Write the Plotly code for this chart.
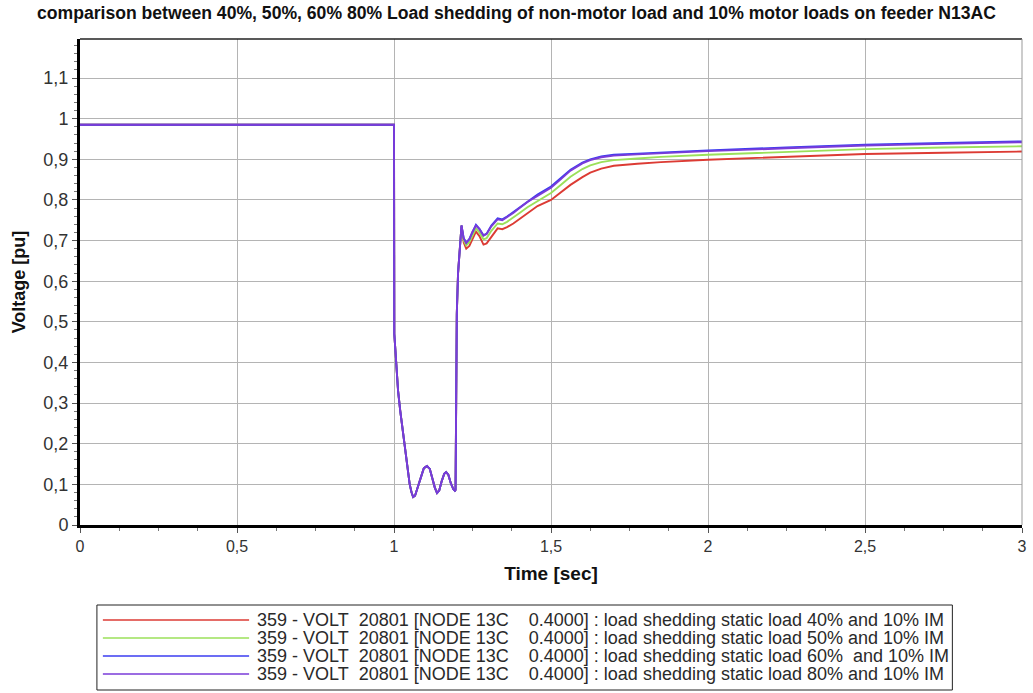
import plotly.graph_objects as go

# Time samples shared by every case up to the first recovery peak
t_common = [0, 1.0, 1.001, 1.006, 1.013, 1.02, 1.03, 1.04, 1.05, 1.056, 1.061,
            1.067, 1.075, 1.085, 1.095, 1.105, 1.114, 1.122, 1.13, 1.137, 1.144,
            1.152, 1.16, 1.166, 1.173, 1.181, 1.189, 1.194, 1.196, 1.198, 1.200,
            1.204, 1.208, 1.212, 1.215]
v_common = [0.985, 0.985, 0.47, 0.40, 0.33, 0.28, 0.22, 0.16, 0.10, 0.08, 0.069,
            0.072, 0.092, 0.12, 0.14, 0.145, 0.138, 0.115, 0.092, 0.079, 0.085,
            0.108, 0.126, 0.13, 0.124, 0.103, 0.088, 0.084, 0.086, 0.30, 0.52,
            0.62, 0.67, 0.72, 0.737]

# Recovery after fault clearing, per load-shedding case
t_tail = [1.222, 1.230, 1.240, 1.250, 1.261, 1.272, 1.285, 1.295, 1.31, 1.33,
          1.345, 1.36, 1.38, 1.40, 1.425, 1.457, 1.50, 1.53, 1.562, 1.60, 1.625,
          1.66, 1.70, 1.775, 1.85, 2.0, 2.25, 2.5, 2.75, 3.0]
v_tail_40 = [0.695, 0.680, 0.687, 0.705, 0.722, 0.711, 0.690, 0.693, 0.710, 0.730,
             0.728, 0.733, 0.742, 0.753, 0.767, 0.785, 0.800, 0.817, 0.837, 0.856,
             0.867, 0.877, 0.884, 0.889, 0.893, 0.899, 0.906, 0.913, 0.916, 0.919]
v_tail_50 = [0.700, 0.688, 0.696, 0.714, 0.730, 0.720, 0.703, 0.706, 0.724, 0.742,
             0.740, 0.746, 0.756, 0.768, 0.782, 0.797, 0.817, 0.836, 0.857, 0.876,
             0.885, 0.893, 0.898, 0.902, 0.906, 0.911, 0.918, 0.925, 0.929, 0.932]
v_tail_60 = [0.706, 0.695, 0.704, 0.723, 0.739, 0.729, 0.713, 0.717, 0.737, 0.755,
             0.752, 0.759, 0.770, 0.782, 0.797, 0.813, 0.833, 0.853, 0.874, 0.892,
             0.900, 0.907, 0.911, 0.914, 0.917, 0.922, 0.929, 0.936, 0.940, 0.944]
v_tail_80 = [0.705, 0.694, 0.703, 0.722, 0.737, 0.728, 0.712, 0.716, 0.735, 0.752,
             0.750, 0.757, 0.768, 0.780, 0.795, 0.810, 0.830, 0.850, 0.872, 0.890,
             0.898, 0.905, 0.909, 0.912, 0.915, 0.920, 0.927, 0.934, 0.938, 0.942]

NB = "\u00a0"
prefix = "359 - VOLT" + NB * 2 + "20801 [NODE 13C" + NB * 4 + "0.4000] : load shedding static load "
series_names = [
    prefix + "40% and 10% IM",
    prefix + "50% and 10% IM",
    prefix + "60%" + NB + " and 10% IM",
    prefix + "80% and 10% IM",
]
series_tails = [v_tail_40, v_tail_50, v_tail_60, v_tail_80]
series_colors = ["#dc3b34", "#9be05a", "#3b3cf0", "#7a3bd8"]

W, H = 1033, 693
ML, MR, MT, MB = 80, 6, 39, 168
PW, PH = W - ML - MR, H - MT - MB


def px_x(px):
    """Pixel column -> paper x."""
    return (px - ML) / PW


def px_y(py):
    """Pixel row -> paper y."""
    return (H - MB - py) / PH


fig = go.Figure()
for name, tail, color in zip(series_names, series_tails, series_colors):
    fig.add_trace(go.Scatter(
        x=t_common + t_tail,
        y=v_common + tail,
        mode="lines",
        name=name,
        line=dict(color=color, width=1.9),
        showlegend=False,
    ))

font_main = "Liberation Sans, Arial, sans-serif"

# Boxed key below the plot: a sample line and the series label per row
shapes = [
    dict(type="line", xref="paper", yref="paper", x0=0, x1=1, y0=1, y1=1,
         line=dict(color="#222", width=1.5)),
    dict(type="line", xref="paper", yref="paper", x0=1, x1=1, y0=0, y1=1,
         line=dict(color="#999", width=1)),
    dict(type="rect", xref="paper", yref="paper",
         x0=px_x(97), x1=px_x(957), y0=px_y(690), y1=px_y(605),
         line=dict(color="#222", width=1), fillcolor="white", layer="below"),
]
annotations = []
for i, (name, color) in enumerate(zip(series_names, series_colors)):
    row_y = px_y(620 + 18 * i)
    shapes.append(dict(type="line", xref="paper", yref="paper",
                       x0=px_x(103), x1=px_x(250), y0=row_y, y1=row_y,
                       line=dict(color=color, width=1.5)))
    annotations.append(dict(xref="paper", yref="paper", x=px_x(256), y=row_y,
                            xanchor="left", yanchor="middle", showarrow=False,
                            text=name, font=dict(family=font_main, size=18, color="#2a2a2a")))

fig.update_layout(
    width=W, height=H,
    margin=dict(l=ML, r=MR, t=MT, b=MB),
    paper_bgcolor="white", plot_bgcolor="white",
    separators=",.",
    showlegend=False,
    title=dict(
        text="<b>comparison between 40%, 50%, 60% 80% Load shedding of non-motor load and 10% motor loads on feeder N13AC</b>",
        x=0.5, xanchor="center", y=0.982, yanchor="middle",
        font=dict(family=font_main, size=17.6, color="#111"),
    ),
    xaxis=dict(
        range=[0, 3], dtick=0.5, tick0=0,
        showgrid=True, gridcolor="#b4b4b4", gridwidth=1,
        showline=True, linecolor="black", linewidth=3,
        ticks="outside", ticklen=5, tickcolor="#555",
        minor=dict(dtick=0.125, ticks="outside", ticklen=3, tickcolor="#777", showgrid=False),
        tickfont=dict(family=font_main, size=16, color="#333"),
        title=dict(text="<b>Time [sec]</b>", font=dict(family=font_main, size=19, color="#111"), standoff=13),
        zeroline=False,
    ),
    yaxis=dict(
        range=[0, 1.196], dtick=0.1, tick0=0,
        showgrid=True, gridcolor="#b4b4b4", gridwidth=1,
        showline=True, linecolor="black", linewidth=3,
        ticks="outside", ticklen=5, tickcolor="#555",
        minor=dict(dtick=0.02, ticks="outside", ticklen=3, tickcolor="#777", showgrid=False),
        tickfont=dict(family=font_main, size=18, color="#333"),
        title=dict(text="<b>Voltage [pu]</b>", font=dict(family=font_main, size=18, color="#111"), standoff=14),
        zeroline=False,
    ),
    shapes=shapes,
    annotations=annotations,
)

fig.write_html("out.html")
